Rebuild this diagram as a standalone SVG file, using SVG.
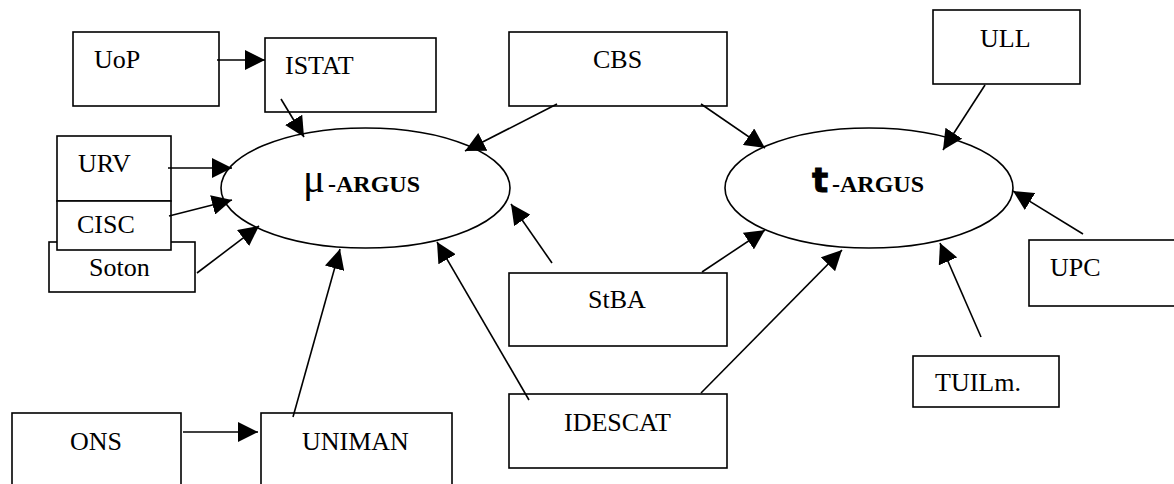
<svg xmlns="http://www.w3.org/2000/svg" width="1174" height="484" viewBox="0 0 1174 484">
<style>
.box{fill:#fff;stroke:#000;stroke-width:1.6}
.ell{fill:#fff;stroke:#000;stroke-width:1.6}
.lbl{font-family:"Liberation Serif","Times New Roman",serif;font-size:26px;fill:#000}
.big{font-family:"Liberation Serif","Times New Roman",serif;font-size:24px;font-weight:bold;fill:#000}
.mu{font-family:"Liberation Serif","Times New Roman",serif;font-size:41px;fill:#000}
.tau{font-family:"DejaVu Sans",sans-serif;font-size:34px;font-weight:bold;fill:#000;stroke:#000;stroke-width:0.8}
.con{fill:none;stroke:#000;stroke-width:1.6;marker-end:url(#ah)}
</style>
<defs>
<marker id="ah" markerUnits="userSpaceOnUse" markerWidth="20" markerHeight="20" refX="20" refY="10" orient="auto">
<path d="M0,0 L20,10 L0,20 z" fill="#000"/>
</marker>
</defs>
<rect width="1174" height="484" fill="#fff"/>
<g id="mu-argus"><ellipse class="ell" cx="365.5" cy="188" rx="144.5" ry="60"/>
<text y="192"><tspan x="303" class="mu">μ</tspan><tspan x="328" class="big">-ARGUS</tspan></text></g>
<g id="t-argus"><ellipse class="ell" cx="869" cy="188" rx="144" ry="60"/>
<text y="192"><tspan x="812" class="tau">t</tspan><tspan x="832" class="big">-ARGUS</tspan></text></g>
<g id="uop"><rect class="box" x="73" y="32" width="146" height="74"/><text class="lbl" x="94" y="68">UoP</text></g>
<g id="istat"><rect class="box" x="265" y="38" width="171" height="74"/><text class="lbl" x="285" y="74">ISTAT</text></g>
<g id="soton"><rect class="box" x="49" y="242" width="146" height="50"/><text class="lbl" x="89" y="276">Soton</text></g>
<g id="urv"><rect class="box" x="57" y="136" width="114" height="65"/><text class="lbl" x="78" y="172">URV</text></g>
<g id="cisc"><rect class="box" x="57" y="201" width="114" height="49"/><text class="lbl" x="77" y="233">CISC</text></g>
<g id="cbs"><rect class="box" x="509" y="32" width="218" height="74"/><text class="lbl" x="593" y="68">CBS</text></g>
<g id="stba"><rect class="box" x="509" y="273" width="218" height="73"/><text class="lbl" x="588" y="308">StBA</text></g>
<g id="idescat"><rect class="box" x="509" y="394" width="218" height="74"/><text class="lbl" x="564" y="431">IDESCAT</text></g>
<g id="ons"><rect class="box" x="12" y="413" width="169" height="90"/><text class="lbl" x="70" y="450">ONS</text></g>
<g id="uniman"><rect class="box" x="261" y="413" width="191" height="90"/><text class="lbl" x="302" y="450">UNIMAN</text></g>
<g id="ull"><rect class="box" x="933" y="10" width="147" height="74"/><text class="lbl" x="980" y="47">ULL</text></g>
<g id="upc"><rect class="box" x="1029" y="240" width="160" height="66"/><text class="lbl" x="1050" y="276">UPC</text></g>
<g id="tuilm"><rect class="box" x="913" y="356" width="146" height="51"/><text class="lbl" x="935" y="391">TUILm.</text></g>
<g id="connectors">
<line class="con" x1="217" y1="60" x2="265" y2="60"/>
<line class="con" x1="281" y1="99" x2="304" y2="137"/>
<line class="con" x1="168" y1="168" x2="232" y2="168"/>
<line class="con" x1="169" y1="216" x2="232" y2="200"/>
<line class="con" x1="197" y1="273" x2="259" y2="226"/>
<line class="con" x1="293" y1="417" x2="340" y2="249"/>
<line class="con" x1="183" y1="432" x2="258" y2="432"/>
<line class="con" x1="557" y1="104" x2="465" y2="151"/>
<line class="con" x1="552" y1="263" x2="511" y2="204"/>
<line class="con" x1="529" y1="400" x2="437" y2="242"/>
<line class="con" x1="701" y1="104" x2="765" y2="148"/>
<line class="con" x1="702" y1="272" x2="765" y2="230"/>
<line class="con" x1="701" y1="393" x2="842" y2="250"/>
<line class="con" x1="985" y1="85" x2="943" y2="150"/>
<line class="con" x1="1083" y1="234" x2="1013" y2="191"/>
<line class="con" x1="981" y1="337" x2="940" y2="243"/>
</g>
</svg>
